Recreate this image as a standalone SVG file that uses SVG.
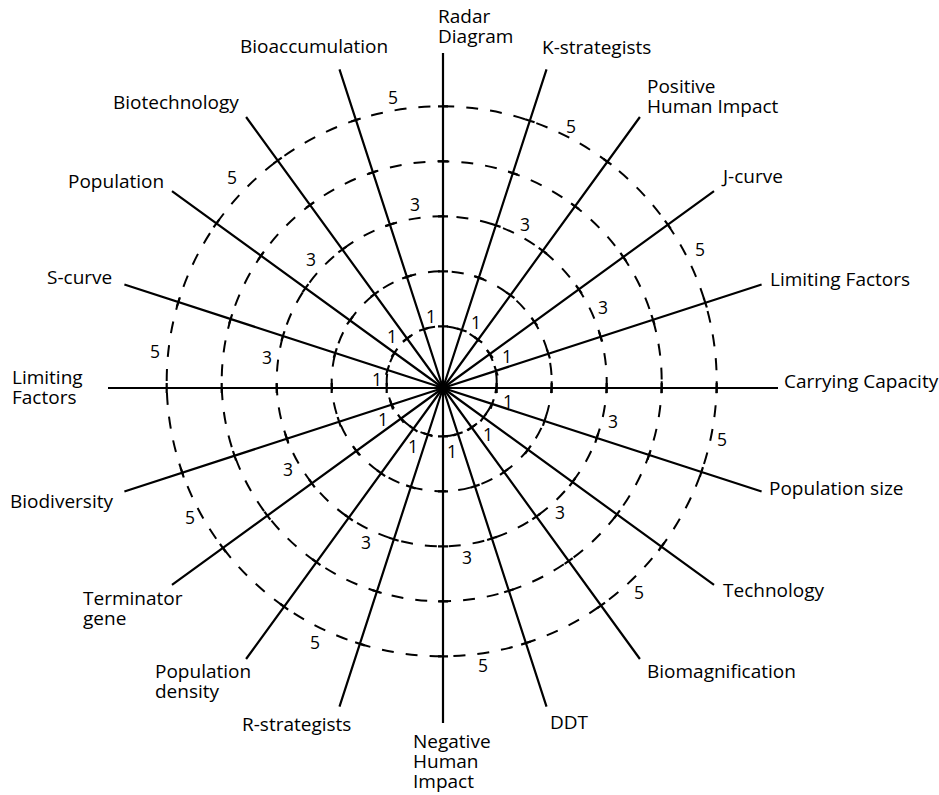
<svg xmlns="http://www.w3.org/2000/svg" width="939" height="795" viewBox="0 0 939 795">
<style>
.ring{fill:none;stroke:#000;stroke-width:2;stroke-dasharray:12 12}
.spoke{fill:none;stroke:#000;stroke-width:2.2}
.lbl{font-family:"Open Sans","Liberation Sans",sans-serif;font-size:19px;fill:#000}
.num{font-family:"Open Sans","Liberation Sans",sans-serif;font-size:17.5px;fill:#000;text-anchor:middle}
</style>
<rect width="939" height="795" fill="#fff"/>
<g id="rings">
<circle class="ring" cx="441.7" cy="381.3" r="55"/>
<circle class="ring" cx="441.7" cy="381.3" r="110"/>
<circle class="ring" cx="441.7" cy="381.3" r="165"/>
<circle class="ring" cx="441.7" cy="381.3" r="220"/>
<circle class="ring" cx="441.7" cy="381.3" r="275"/>
</g>
<g id="connectors">
<path class="spoke" transform="rotate(0 443 388)" d="M443 388V53M438 326.3H448M438 271.3H448M438 216.3H448M438 161.3H448M438 106.3H448"/>
<path class="spoke" transform="rotate(18 443 388)" d="M443 388V53M438 327H448M438 272H448M438 217H448M438 162H448M438 107H448"/>
<path class="spoke" transform="rotate(36 443 388)" d="M443 388V53M438 328.3H448M438 273.3H448M438 218.3H448M438 163.3H448M438 108.3H448"/>
<path class="spoke" transform="rotate(54 443 388)" d="M443 388V53M438 330.1H448M438 275.1H448M438 220.1H448M438 165.1H448M438 110.1H448"/>
<path class="spoke" transform="rotate(72 443 388)" d="M443 388V53M438 332.2H448M438 277.2H448M438 222.2H448M438 167.2H448M438 112.2H448"/>
<path class="spoke" transform="rotate(90 443 388)" d="M443 388V53M438 334.3H448M438 279.3H448M438 224.3H448M438 169.3H448M438 114.3H448"/>
<path class="spoke" transform="rotate(108 443 388)" d="M443 388V53M438 336.3H448M438 281.3H448M438 226.3H448M438 171.3H448M438 116.3H448"/>
<path class="spoke" transform="rotate(126 443 388)" d="M443 388V53M438 338H448M438 283H448M438 228H448M438 173H448M438 118H448"/>
<path class="spoke" transform="rotate(144 443 388)" d="M443 388V53M438 339.2H448M438 284.2H448M438 229.2H448M438 174.2H448M438 119.2H448"/>
<path class="spoke" transform="rotate(162 443 388)" d="M443 388V53M438 339.8H448M438 284.8H448M438 229.8H448M438 174.8H448M438 119.8H448"/>
<path class="spoke" transform="rotate(180 443 388)" d="M443 388V53M438 339.7H448M438 284.7H448M438 229.7H448M438 174.7H448M438 119.7H448"/>
<path class="spoke" transform="rotate(198 443 388)" d="M443 388V53M438 339H448M438 284H448M438 229H448M438 174H448M438 119H448"/>
<path class="spoke" transform="rotate(216 443 388)" d="M443 388V53M438 337.7H448M438 282.7H448M438 227.7H448M438 172.7H448M438 117.7H448"/>
<path class="spoke" transform="rotate(234 443 388)" d="M443 388V53M438 335.9H448M438 280.9H448M438 225.9H448M438 170.9H448M438 115.9H448"/>
<path class="spoke" transform="rotate(252 443 388)" d="M443 388V53M438 333.8H448M438 278.8H448M438 223.8H448M438 168.8H448M438 113.8H448"/>
<path class="spoke" transform="rotate(270 443 388)" d="M443 388V53M438 331.7H448M438 276.7H448M438 221.7H448M438 166.7H448M438 111.7H448"/>
<path class="spoke" transform="rotate(288 443 388)" d="M443 388V53M438 329.7H448M438 274.7H448M438 219.7H448M438 164.7H448M438 109.7H448"/>
<path class="spoke" transform="rotate(306 443 388)" d="M443 388V53M438 328H448M438 273H448M438 218H448M438 163H448M438 108H448"/>
<path class="spoke" transform="rotate(324 443 388)" d="M443 388V53M438 326.8H448M438 271.8H448M438 216.8H448M438 161.8H448M438 106.8H448"/>
<path class="spoke" transform="rotate(342 443 388)" d="M443 388V53M438 326.2H448M438 271.2H448M438 216.2H448M438 161.2H448M438 106.2H448"/>
<circle cx="443" cy="388" r="5" fill="#000"/>
</g>
<g id="scale">
<text class="num" x="393" y="104">5</text><text class="num" x="415" y="211">3</text><text class="num" x="431" y="323">1</text>
<text class="num" x="571" y="133">5</text><text class="num" x="525" y="231">3</text><text class="num" x="476" y="329">1</text>
<text class="num" x="700" y="256">5</text><text class="num" x="603" y="314">3</text><text class="num" x="507" y="363">1</text>
<text class="num" x="232" y="184">5</text><text class="num" x="311" y="266">3</text><text class="num" x="392" y="343">1</text>
<text class="num" x="155" y="358">5</text><text class="num" x="267" y="364">3</text><text class="num" x="377" y="386">1</text>
<text class="num" x="722" y="446">5</text><text class="num" x="613" y="428">3</text><text class="num" x="508" y="408">1</text>
<text class="num" x="639" y="599">5</text><text class="num" x="560" y="519">3</text><text class="num" x="488" y="441">1</text>
<text class="num" x="483" y="672">5</text><text class="num" x="467" y="564">3</text><text class="num" x="452" y="458">1</text>
<text class="num" x="190" y="524">5</text><text class="num" x="288" y="476">3</text><text class="num" x="383" y="426">1</text>
<text class="num" x="315" y="649">5</text><text class="num" x="366" y="549">3</text><text class="num" x="413" y="453">1</text>
</g>
<g id="n-radar"><text class="lbl" x="438" y="23">Radar</text><text class="lbl" x="438" y="43">Diagram</text></g>
<g id="n-kstrat"><text class="lbl" x="542" y="54">K-strategists</text></g>
<g id="n-positive"><text class="lbl" x="647" y="93">Positive</text><text class="lbl" x="647" y="113">Human Impact</text></g>
<g id="n-jcurve"><text class="lbl" x="723" y="183">J-curve</text></g>
<g id="n-limiting-r"><text class="lbl" x="770" y="286">Limiting Factors</text></g>
<g id="n-carrying"><text class="lbl" x="784" y="388">Carrying Capacity</text></g>
<g id="n-popsize"><text class="lbl" x="769" y="495">Population size</text></g>
<g id="n-technology"><text class="lbl" x="723" y="597">Technology</text></g>
<g id="n-biomag"><text class="lbl" x="647" y="678">Biomagnification</text></g>
<g id="n-ddt"><text class="lbl" x="550" y="729">DDT</text></g>
<g id="n-negative"><text class="lbl" x="413" y="748">Negative</text><text class="lbl" x="413" y="768">Human</text><text class="lbl" x="413" y="788">Impact</text></g>
<g id="n-rstrat"><text class="lbl" x="242" y="731">R-strategists</text></g>
<g id="n-popdensity"><text class="lbl" x="155" y="678">Population</text><text class="lbl" x="155" y="698">density</text></g>
<g id="n-terminator"><text class="lbl" x="83" y="605">Terminator</text><text class="lbl" x="83" y="625">gene</text></g>
<g id="n-biodiversity"><text class="lbl" x="10" y="508">Biodiversity</text></g>
<g id="n-limiting-l"><text class="lbl" x="12" y="384">Limiting</text><text class="lbl" x="12" y="404">Factors</text></g>
<g id="n-scurve"><text class="lbl" x="47" y="284">S-curve</text></g>
<g id="n-population"><text class="lbl" x="68" y="188">Population</text></g>
<g id="n-biotech"><text class="lbl" x="113" y="109">Biotechnology</text></g>
<g id="n-bioacc"><text class="lbl" x="240" y="53">Bioaccumulation</text></g>
</svg>
